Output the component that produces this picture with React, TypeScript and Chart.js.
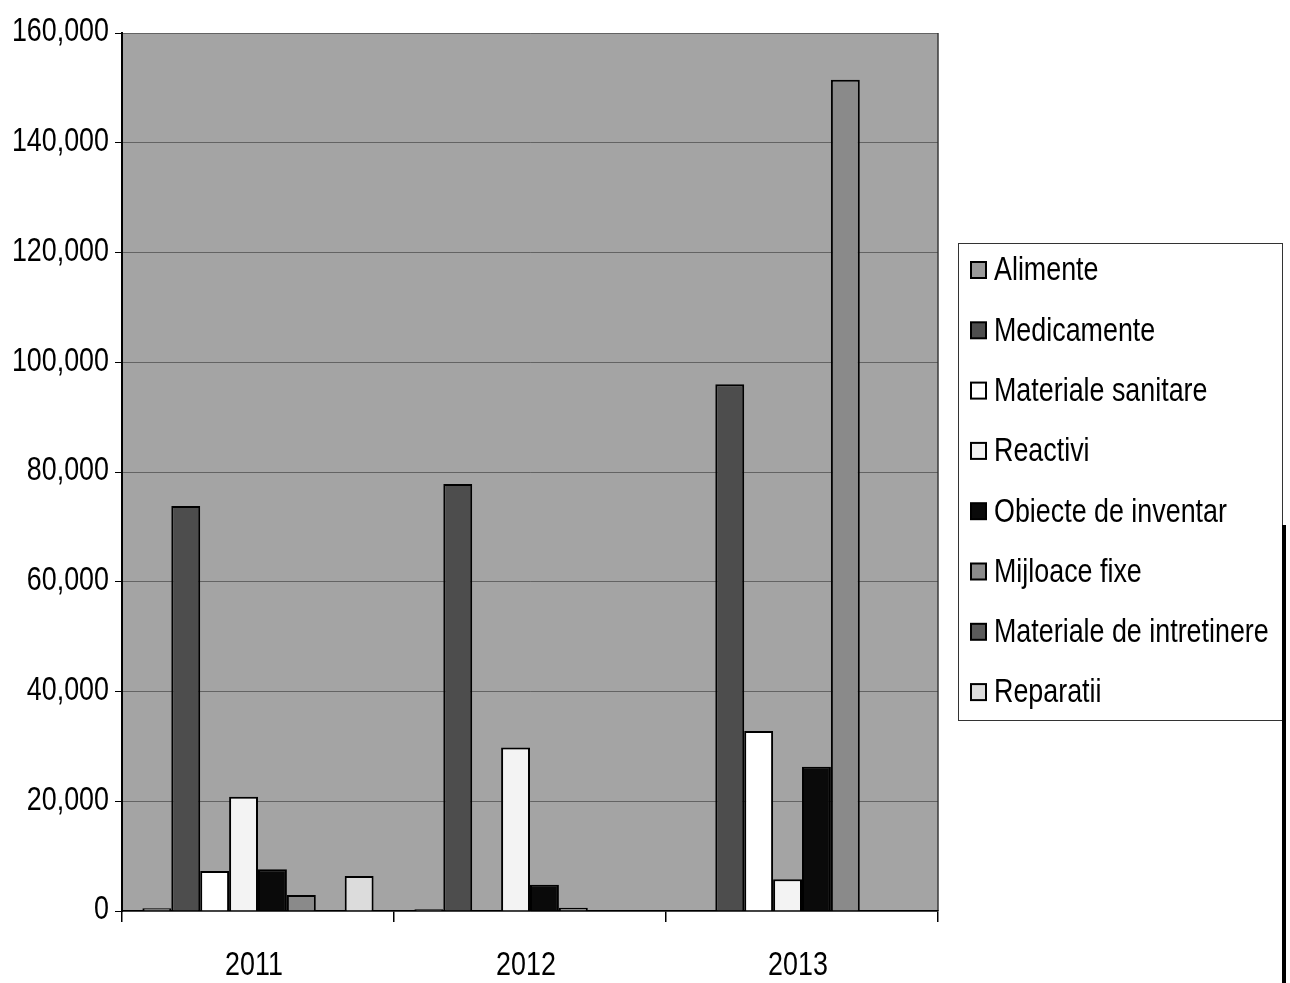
import React, { useEffect, useRef } from "react";
import { Chart, registerables } from "chart.js";

Chart.register(...registerables);

const years = ["2011", "2012", "2013"];
const seriesNames = [
  "Alimente",
  "Medicamente",
  "Materiale sanitare",
  "Reactivi",
  "Obiecte de inventar",
  "Mijloace fixe",
  "Materiale de intretinere",
  "Reparatii",
];
const alimente = [500, 300, 0];
const medicamente = [73800, 77800, 96000];
const materialeSanitare = [7300, 0, 32800];
const reactivi = [20800, 29800, 5800];
const obiecteInventar = [7600, 4800, 26300];
const mijloaceFixe = [2900, 600, 151500];
const materialeIntretinere = [0, 0, 0];
const reparatii = [6400, 0, 0];
const seriesValues = [
  alimente,
  medicamente,
  materialeSanitare,
  reactivi,
  obiecteInventar,
  mijloaceFixe,
  materialeIntretinere,
  reparatii,
];
const seriesColors = [
  "#9a9a9a",
  "#4d4d4d",
  "#ffffff",
  "#f3f3f3",
  "#0a0a0a",
  "#8a8a8a",
  "#5a5a5a",
  "#dcdcdc",
];
const yMax = 160000;
const yStep = 20000;

const FONT = "'Liberation Sans', Arial, sans-serif";
const FONT_SIZE = 34;
const SQUEEZE = 0.79;

function drawNarrow(ctx: any, text: string, x: number, y: number, align: string) {
  ctx.save();
  ctx.translate(x, y);
  ctx.scale(SQUEEZE, 1);
  ctx.font = `${FONT_SIZE}px ${FONT}`;
  ctx.textAlign = align;
  ctx.textBaseline = "middle";
  ctx.fillStyle = "#000";
  ctx.fillText(text, 0, 0);
  ctx.restore();
}

const bgPlugin = {
  id: "plotBg",
  beforeDraw(chart: any) {
    const { ctx, chartArea } = chart;
    ctx.save();
    ctx.fillStyle = "#a4a4a4";
    ctx.fillRect(chartArea.left, chartArea.top, chartArea.right - chartArea.left, chartArea.bottom - chartArea.top);
    ctx.strokeStyle = "#3a3a3a";
    ctx.lineWidth = 1.5;
    ctx.beginPath();
    ctx.moveTo(chartArea.right, chartArea.top);
    ctx.lineTo(chartArea.right, chartArea.bottom);
    ctx.stroke();
    ctx.restore();
  },
};

const labelPlugin = {
  id: "narrowLabels",
  afterDraw(chart: any) {
    const { ctx } = chart;
    const ys = chart.scales.y;
    ys.ticks.forEach((t: any) => {
      const py = ys.getPixelForValue(t.value);
      drawNarrow(ctx, Number(t.value).toLocaleString("en-US"), 109, py - 1, "right");
    });
    const xs = chart.scales.x;
    xs.getLabels().forEach((lab: string, i: number) => {
      const px = xs.getPixelForValue(i);
      drawNarrow(ctx, lab, px - 4, 966, "center");
    });
  },
};

const legendPlugin = {
  id: "boxLegend",
  afterDraw(chart: any) {
    const { ctx } = chart;
    const left = 958;
    const top = 243;
    const right = 1282;
    const bottom = 720;
    ctx.save();
    ctx.fillStyle = "#ffffff";
    ctx.fillRect(left, top, right - left, bottom - top);
    ctx.strokeStyle = "#333";
    ctx.lineWidth = 1;
    ctx.strokeRect(left + 0.5, top + 0.5, right - left, bottom - top);
    const rowStart = 270;
    const rowGap = 60.3;
    chart.data.datasets.forEach((ds: any, i: number) => {
      const cy = rowStart + i * rowGap;
      ctx.fillStyle = ds.backgroundColor;
      ctx.fillRect(971, cy - 8, 15, 16);
      ctx.strokeStyle = "#000";
      ctx.lineWidth = 2;
      ctx.strokeRect(971, cy - 8, 15, 16);
      drawNarrow(ctx, ds.label, 994, cy + 1, "left");
    });
    // scan edge line on the far right
    ctx.fillStyle = "#000";
    ctx.fillRect(1282, 525, 4, 458);
    ctx.restore();
  },
};

export default function App() {
  const ref = useRef<HTMLCanvasElement | null>(null);
  useEffect(() => {
    if (!ref.current) return;
    const chart = new Chart(ref.current, {
      type: "bar",
      data: {
        labels: years,
        datasets: seriesNames.map((name, i) => ({
          label: name,
          data: seriesValues[i],
          backgroundColor: seriesColors[i],
          borderColor: "#000",
          borderWidth: 2,
          categoryPercentage: 0.85,
          barPercentage: 1,
        })),
      },
      options: {
        animation: false,
        responsive: false,
        maintainAspectRatio: false,
        layout: { padding: { left: 0, right: 352, top: 33, bottom: 0 } },
        plugins: {
          legend: { display: false },
          tooltip: { enabled: false },
        },
        scales: {
          x: {
            grid: { drawOnChartArea: false, tickColor: "#000", tickLength: 11, offset: true, lineWidth: 1.5 },
            border: { color: "#000", width: 1.5 },
            ticks: { display: false },
            afterFit(s: any) {
              s.height = 72;
            },
          },
          y: {
            min: 0,
            max: yMax,
            ticks: { stepSize: yStep, display: false },
            grid: { color: "rgba(45,45,45,0.55)", lineWidth: 1, tickColor: "#000", tickLength: 7 },
            border: { color: "#000", width: 2 },
            afterFit(s: any) {
              s.width = 122;
            },
          },
        },
      },
      plugins: [bgPlugin, labelPlugin, legendPlugin],
    });
    return () => chart.destroy();
  }, []);
  return (
    <div style={{ position: "fixed", left: 0, top: 0, width: 1290, height: 983, background: "#fff" }}>
      <canvas ref={ref} width={1290} height={983} style={{ width: 1290, height: 983 }} />
    </div>
  );
}
